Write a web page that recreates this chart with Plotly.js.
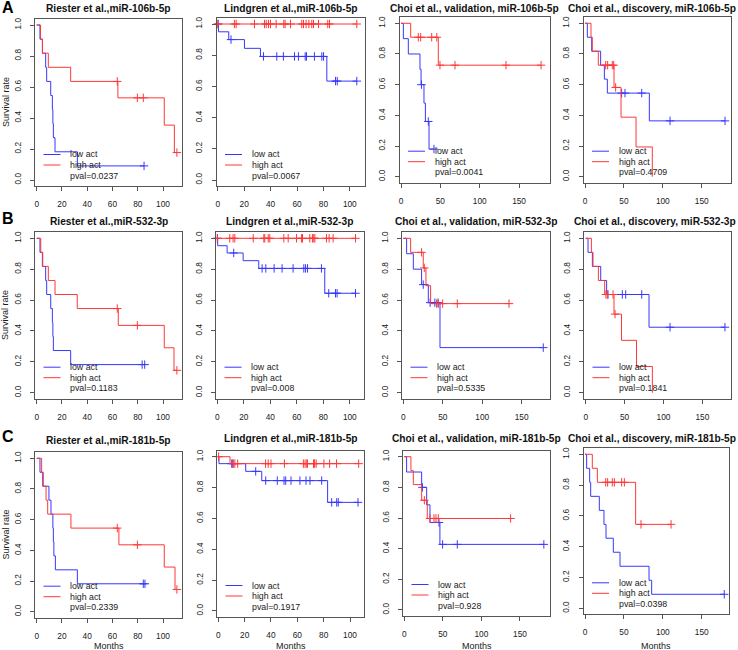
<!DOCTYPE html>
<html><head><meta charset="utf-8">
<script src="https://cdn.plot.ly/plotly-3.0.1.min.js"></script>
<style>body{margin:0;background:#fff}#chart{width:738px;height:650px}</style>
</head><body><div id="chart"></div>
<script>
// ---------------- DATA ----------------
// event times (_t), survival after each event (_s), censor times (_c)
const A1_low_t = [2.6, 4.5, 7.1, 7.9, 11.1, 12.4, 12.8, 13.2, 14.5, 32.2];
const A1_low_s = [0.909, 0.818, 0.727, 0.636, 0.545, 0.455, 0.364, 0.273, 0.182, 0.091];
const A1_low_c = [85];
const A1_high_t = [3.0, 4.6, 9.2, 26.9, 64.3, 101, 109];
const A1_high_s = [0.909, 0.818, 0.727, 0.636, 0.530, 0.354, 0.177];
const A1_high_c = [63.8, 79.7, 84.4, 111];

const A2_low_t = [0.5, 8.3, 20.2, 32.3, 82.6];
const A2_low_s = [0.950, 0.900, 0.844, 0.792, 0.634];
const A2_low_c = [0.3, 10, 34.6, 44.7, 49.7, 58.1, 61.1, 66.2, 67.2, 73.2, 78.8, 80.1, 89.2, 90.5, 105.3];
const A2_high_t = [];
const A2_high_s = [];
const A2_high_c = [0, 12.6, 13.9, 27.8, 35.4, 36.7, 38.4, 39.9, 44.2, 50.0, 51.0, 55.1, 63.6, 64.9, 66.9, 69.0, 71.2, 72.5, 76.3, 83.3, 84.6, 105.3];

const A3_low_t = [3, 9.3, 24.1, 25.5, 29.2, 31, 35.6];
const A3_low_s = [0.9, 0.8, 0.7, 0.6, 0.48, 0.36, 0.18];
const A3_low_c = [26, 34.7, 41.9];
const A3_high_t = [12.3, 47.4];
const A3_high_s = [0.909, 0.727];
const A3_high_c = [22, 25, 39, 45.5, 49.5, 68.6, 133.4, 178];

const A4_low_t = [3, 8.6, 20.1, 24.9, 28.7, 82.7];
const A4_low_s = [0.909, 0.818, 0.727, 0.636, 0.545, 0.364];
const A4_low_c = [47.1, 51.4, 72.9, 109.3, 180];
const A4_high_t = [7.7, 9.4, 17.1, 37.3, 46.3, 65.6, 86.5];
const A4_high_s = [0.909, 0.818, 0.727, 0.582, 0.388, 0.194, 0];
const A4_high_c = [26.6, 29.1, 35.1, 36.9, 39.4];

const B1_low_t = [2.6, 4.5, 7.1, 7.9, 11.1, 12.4, 12.8, 13.2, 26.9];
const B1_low_s = [0.909, 0.818, 0.727, 0.636, 0.545, 0.455, 0.364, 0.273, 0.182];
const B1_low_c = [83.5, 85.5];
const B1_high_t = [3.2, 4.8, 9.2, 14.5, 32.1, 64.6, 101, 108.7];
const B1_high_s = [0.909, 0.818, 0.727, 0.636, 0.545, 0.436, 0.291, 0.145];
const B1_high_c = [63.8, 79.7, 111];

const B2_low_t = [0.3, 7.4, 19.5, 31.3, 81.1];
const B2_low_s = [0.952, 0.905, 0.855, 0.805, 0.644];
const B2_low_c = [0.1, 12.4, 33.8, 36.6, 42.9, 48.9, 57.2, 65.3, 66.6, 68.1, 78.6, 84.1, 89.2, 90.4, 104.3];
const B2_high_t = [];
const B2_high_s = [];
const B2_high_c = [0, 9.4, 11.9, 13.2, 27.1, 35.1, 35.8, 38.4, 39.6, 50.2, 53.5, 59.8, 63.5, 64.3, 69.8, 71.8, 72.8, 73.6, 82.4, 84.4, 87.4, 104.3];

const B3_low_t = [4.2, 12.7, 23.2, 31.7, 46.5];
const B3_low_s = [0.9, 0.8, 0.7, 0.583, 0.292];
const B3_low_c = [25.3, 34, 40, 44, 177.4];
const B3_high_t = [9.3, 25.3, 28.7, 34.6];
const B3_high_s = [0.909, 0.808, 0.693, 0.577];
const B3_high_c = [23.2, 26.6, 42.2, 44.4, 49.9, 68.4, 134];

const B4_low_t = [3, 8.6, 19.3, 26.9, 81.4];
const B4_low_s = [0.909, 0.818, 0.727, 0.636, 0.424];
const B4_low_c = [28.7, 47.1, 51.4, 72, 108.4, 179];
const B4_high_t = [7.3, 9.4, 16.3, 24.4, 36.4, 46, 65.3, 85.7];
const B4_high_s = [0.909, 0.818, 0.727, 0.636, 0.509, 0.339, 0.170, 0];
const B4_high_c = [26, 27.8, 35.1, 37.7];

const C1_low_t = [2.6, 4.8, 9.7, 11.3, 12.8, 13.2, 13.6, 14.8, 32.2];
const C1_low_s = [0.909, 0.818, 0.727, 0.636, 0.545, 0.455, 0.364, 0.273, 0.182];
const C1_low_c = [84.4, 85.7];
const C1_high_t = [3.9, 5.2, 7.4, 8.7, 27.1, 65.1, 101, 109.5];
const C1_high_s = [0.909, 0.818, 0.727, 0.636, 0.545, 0.436, 0.291, 0.145];
const C1_high_c = [63.8, 79.7, 111];

const C2_low_t = [0.5, 20.8, 33, 83];
const C2_low_s = [0.955, 0.905, 0.845, 0.704];
const C2_low_c = [10.2, 11, 28.4, 36, 44.8, 49.9, 51.2, 55.2, 62, 66.6, 69.6, 78.5, 86.1, 89.9, 91.1, 106.1];
const C2_high_t = [8.9];
const C2_high_s = [0.955];
const C2_high_c = [0.2, 11.4, 12.6, 14.7, 35.9, 37.9, 40, 50.2, 64.6, 65.9, 67.2, 67.7, 72.3, 73.1, 74.3, 80.2, 84.5, 89.8, 106.6];

const C3_low_t = [3, 22.5, 29, 33.3, 46.2];
const C3_low_s = [0.9, 0.8, 0.686, 0.571, 0.428];
const C3_low_c = [23.5, 45, 49.7, 68.7, 181];
const C3_high_t = [8.6, 11.7, 22.5, 29.8];
const C3_high_s = [0.909, 0.818, 0.716, 0.597];
const C3_high_c = [26, 33.3, 38.5, 41.1, 44.1, 137.9];

const C4_low_t = [2.1, 6, 7.3, 18.4, 24.4, 27, 36.4, 45, 82.3, 85.7];
const C4_low_s = [0.909, 0.818, 0.727, 0.636, 0.545, 0.455, 0.364, 0.273, 0.182, 0.091];
const C4_low_c = [179];
const C4_high_t = [9.4, 15.9, 65.1];
const C4_high_s = [0.909, 0.818, 0.545];
const C4_high_c = [26.6, 29.1, 35.1, 37.7, 47.1, 50.6, 72, 110.6];

const panelTitles = [
  'Riester et al.,miR-106b-5p', 'Lindgren et al.,miR-106b-5p', 'Choi et al., validation, miR-106b-5p', 'Choi et al., discovery, miR-106b-5p',
  'Riester et al.,miR-532-3p', 'Lindgren et al.,miR-532-3p', 'Choi et al., validation, miR-532-3p', 'Choi et al., discovery, miR-532-3p',
  'Riester et al.,miR-181b-5p', 'Lindgren et al.,miR-181b-5p', 'Choi et al., validation, miR-181b-5p', 'Choi et al., discovery, miR-181b-5p'
];
const pvals = ['0.0237', '0.0067', '0.0041', '0.4709', '0.1183', '0.008', '0.5335', '0.1841', '0.2339', '0.1917', '0.928', '0.0398'];
const groupNames = ['low act', 'high act'];
const rowLetters = ['A', 'B', 'C'];
const xTitle = 'Months';
const yTitle = 'Survival rate';
const xTicksShort = [0, 20, 40, 60, 80, 100];
const xTicksLong = [0, 50, 100, 150];
const yTicks = [0, 0.2, 0.4, 0.6, 0.8, 1.0];

// ---------------- LAYOUT GEOMETRY (px) ----------------
const W = 738, H = 650;
// L,R: box edges; x0: px of month 0; kx: px per month; y1/y0: px of survival 1 / 0; ty: title centre
const geom = [
  {L:35,    R:182,   x0:36.7,  kx:1.263, y1:25,    y0:180,   ty:8.3},
  {L:216.5, R:364.5, x0:217.8, kx:1.32,  y1:24,    y0:180,   ty:8.6},
  {L:399.5, R:550,   x0:401,   kx:0.787, y1:23.3,  y0:176.7, ty:8.3},
  {L:583.5, R:730.5, x0:585,   kx:0.778, y1:23.3,  y0:176.7, ty:8.3},
  {L:35,    R:182,   x0:36.7,  kx:1.263, y1:238.3, y0:392.7, ty:221.7},
  {L:216,   R:363.5, x0:217.3, kx:1.325, y1:238.3, y0:392.7, ty:221.7},
  {L:402,   R:550,   x0:403.3, kx:0.789, y1:238.3, y0:392.7, ty:221.7},
  {L:584,   R:731,   x0:585.7, kx:0.778, y1:238.3, y0:392.7, ty:221.7},
  {L:35,    R:182,   x0:36.7,  kx:1.263, y1:458.3, y0:611.7, ty:440},
  {L:217,   R:364,   x0:218.3, kx:1.317, y1:456.7, y0:611,   ty:438.3},
  {L:403,   R:550,   x0:404.3, kx:0.771, y1:456.7, y0:610,   ty:438.3},
  {L:583.5, R:728.5, x0:585,   kx:0.778, y1:454.3, y0:608.3, ty:438.3}
];
const letterPos = [{x:8, y:7.5}, {x:7.5, y:219}, {x:8, y:436.5}];
const monthsY = 646.3;
const survivalX = 5.5;

const series = [
  [A1_low_t, A1_low_s, A1_low_c, A1_high_t, A1_high_s, A1_high_c],
  [A2_low_t, A2_low_s, A2_low_c, A2_high_t, A2_high_s, A2_high_c],
  [A3_low_t, A3_low_s, A3_low_c, A3_high_t, A3_high_s, A3_high_c],
  [A4_low_t, A4_low_s, A4_low_c, A4_high_t, A4_high_s, A4_high_c],
  [B1_low_t, B1_low_s, B1_low_c, B1_high_t, B1_high_s, B1_high_c],
  [B2_low_t, B2_low_s, B2_low_c, B2_high_t, B2_high_s, B2_high_c],
  [B3_low_t, B3_low_s, B3_low_c, B3_high_t, B3_high_s, B3_high_c],
  [B4_low_t, B4_low_s, B4_low_c, B4_high_t, B4_high_s, B4_high_c],
  [C1_low_t, C1_low_s, C1_low_c, C1_high_t, C1_high_s, C1_high_c],
  [C2_low_t, C2_low_s, C2_low_c, C2_high_t, C2_high_s, C2_high_c],
  [C3_low_t, C3_low_s, C3_low_c, C3_high_t, C3_high_s, C3_high_c],
  [C4_low_t, C4_low_s, C4_low_c, C4_high_t, C4_high_s, C4_high_c]
];

// ---------------- BUILD ----------------
const FONT = '"Liberation Sans", Arial, Helvetica, sans-serif';
const COLORS = ['rgb(55,55,255)', 'rgb(255,55,55)'];
const BOX = '#555';
const TXT = '#1a1a1a';

function stepPath(t, s, c) {
  const x = [0], y = [1];
  for (let i = 0; i < t.length; i++) { x.push(t[i]); y.push(s[i]); }
  const lastT = t.length ? t[t.length - 1] : 0;
  const lastC = c.length ? Math.max(...c) : 0;
  if (lastC > lastT) { x.push(lastC); y.push(y[y.length - 1]); }
  return {x, y};
}
function survAt(t, s, time) {
  let v = 1;
  for (let i = 0; i < t.length; i++) if (t[i] <= time) v = s[i];
  return v;
}

const traces = [];
const layout = {
  width: W, height: H,
  margin: {l: 0, r: 0, t: 0, b: 0},
  paper_bgcolor: '#fff', plot_bgcolor: '#fff',
  showlegend: false,
  font: {family: FONT, color: TXT},
  shapes: [], annotations: []
};

const px2x = v => v / W;
const px2y = v => 1 - v / H;

geom.forEach((g, p) => {
  const sfx = p === 0 ? '' : String(p + 1);
  const xa = 'x' + sfx, ya = 'y' + sfx;
  const col = p % 4, row = Math.floor(p / 4);
  const span = g.y0 - g.y1;
  const T = g.y1 - 0.04 * span, B = g.y0 + 0.04 * span;

  layout['xaxis' + sfx] = {
    domain: [px2x(g.L), px2x(g.R)],
    range: [(g.L - g.x0) / g.kx, (g.R - g.x0) / g.kx],
    anchor: ya,
    tickmode: 'array', tickvals: col < 2 ? xTicksShort : xTicksLong,
    ticks: 'outside', ticklen: 4, tickwidth: 1, tickcolor: BOX,
    showline: true, mirror: true, linecolor: BOX, linewidth: 1,
    showgrid: false, zeroline: false, fixedrange: true,
    tickfont: {size: 8.3, color: TXT, family: FONT},
    ticklabelstandoff: 6
  };
  layout['yaxis' + sfx] = {
    domain: [px2y(B), px2y(T)],
    range: [-0.04, 1.04],
    anchor: xa,
    tickmode: 'array', tickvals: yTicks, tickformat: '.1f', tickangle: -90,
    ticks: 'outside', ticklen: 4, tickwidth: 1, tickcolor: BOX,
    showline: true, mirror: true, linecolor: BOX, linewidth: 1,
    showgrid: false, zeroline: false, fixedrange: true,
    tickfont: {size: 8.3, color: TXT, family: FONT},
    ticklabelstandoff: 6
  };

  const sr = series[p];
  for (let k = 0; k < 2; k++) {
    const t = sr[k * 3], s = sr[k * 3 + 1], c = sr[k * 3 + 2];
    const path = stepPath(t, s, c);
    traces.push({
      type: 'scatter', mode: 'lines', x: path.x, y: path.y, xaxis: xa, yaxis: ya,
      name: groupNames[k], line: {shape: 'hv', color: COLORS[k], width: 1},
      hoverinfo: 'skip', cliponaxis: false
    });
    traces.push({
      type: 'scatter', mode: 'markers', x: c, y: c.map(v => survAt(t, s, v)), xaxis: xa, yaxis: ya,
      name: groupNames[k] + ' censored',
      marker: {symbol: 'cross-thin', size: 6, color: COLORS[k], line: {width: 1, color: COLORS[k]}},
      hoverinfo: 'skip', cliponaxis: false
    });
  }

  // panel title (last column anchored to the right edge so it stays visible)
  const lastCol = col === 3;
  layout.annotations.push({
    xref: 'paper', yref: 'paper',
    x: lastCol ? px2x(737.5) : px2x((g.L + g.R) / 2), y: px2y(g.ty),
    xanchor: lastCol ? 'right' : 'center', yanchor: 'middle', showarrow: false,
    text: '<b>' + panelTitles[p] + '</b>', font: {size: 10.2, color: '#111', family: FONT}
  });
  // axis titles
  if (row === 2) {
    layout.annotations.push({
      xref: 'paper', yref: 'paper', x: px2x((g.L + g.R) / 2), y: px2y(monthsY),
      xanchor: 'center', yanchor: 'middle', showarrow: false,
      text: xTitle, font: {size: 9, color: TXT, family: FONT}
    });
  }
  if (col === 0) {
    layout.annotations.push({
      xref: 'paper', yref: 'paper', x: px2x(survivalX), y: px2y((T + B) / 2),
      xanchor: 'center', yanchor: 'middle', showarrow: false, textangle: -90,
      text: yTitle, font: {size: 9, color: TXT, family: FONT}
    });
  }
  // legend (R-style, bottom-left inside box)
  const rowsY = [g.y0 - 25.5, g.y0 - 15, g.y0 - 4.5];
  for (let k = 0; k < 2; k++) {
    layout.shapes.push({
      type: 'line', xref: 'paper', yref: 'paper',
      x0: px2x(g.L + 8.5), x1: px2x(g.L + 25.5), y0: px2y(rowsY[k]), y1: px2y(rowsY[k]),
      line: {color: COLORS[k], width: 1}
    });
  }
  const legTexts = [groupNames[0], groupNames[1], 'pval=' + pvals[p]];
  legTexts.forEach((txt, k) => {
    layout.annotations.push({
      xref: 'paper', yref: 'paper', x: px2x(g.L + 33), y: px2y(rowsY[k]),
      xanchor: 'left', yanchor: 'middle', showarrow: false,
      text: txt, font: {size: 8.8, color: TXT, family: FONT}
    });
  });
});

rowLetters.forEach((L, i) => {
  layout.annotations.push({
    xref: 'paper', yref: 'paper', x: px2x(letterPos[i].x), y: px2y(letterPos[i].y),
    xanchor: 'center', yanchor: 'middle', showarrow: false,
    text: '<b>' + L + '</b>', font: {size: 16, color: '#000', family: FONT}
  });
});

Plotly.newPlot('chart', traces, layout, {displayModeBar: false, staticPlot: true});
</script>
</body></html>
